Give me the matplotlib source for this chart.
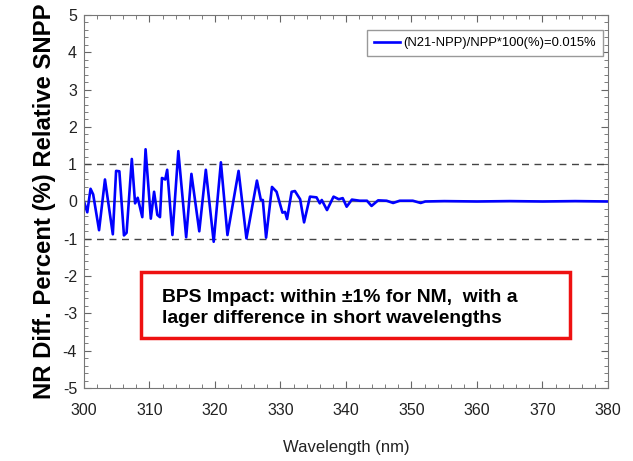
import numpy as np
import matplotlib.pyplot as plt
from matplotlib.ticker import MultipleLocator

# 파장별 상대 차이 (%) - 그림에서 읽은 값
wavelength = [300.0, 300.5, 301.0, 301.4, 302.3, 303.2, 304.4, 304.9, 305.4, 306.1,
              306.5, 307.3, 307.8, 308.2, 308.9, 309.4, 310.2, 310.7, 311.2, 311.6,
              311.9, 312.4, 312.7, 313.5, 314.4, 315.6, 316.4, 317.6, 318.6, 319.8,
              320.9, 321.9, 323.6, 324.8, 326.4, 327.0, 327.3, 327.8, 328.7, 329.4,
              330.3, 330.7, 331.0, 331.7, 332.2, 333.0, 333.6, 334.5, 335.5, 336.0,
              336.3, 337.1, 338.1, 338.9, 339.5, 340.1, 340.9, 342.1, 343.2, 343.9,
              344.9, 346.2, 347.2, 348.2, 350.2, 351.4, 352.1, 355.0, 360.0, 365.0,
              370.0, 375.0, 380.0]
diff_pct = [0.0, -0.29, 0.34, 0.19, -0.77, 0.59, -0.88, 0.82, 0.81, -0.91,
            -0.84, 1.14, -0.05, 0.10, -0.42, 1.40, -0.46, 0.26, -0.36, -0.42,
            0.63, 0.59, 0.85, -0.90, 1.35, -0.96, 0.74, -0.80, 0.85, -1.08,
            1.05, -0.90, 0.82, -0.99, 0.56, 0.04, 0.04, -0.97, 0.39, 0.26,
            -0.30, -0.28, -0.47, 0.26, 0.28, 0.06, -0.56, 0.13, 0.11, -0.05,
            0.04, -0.23, 0.13, 0.06, 0.09, -0.14, 0.05, 0.02, 0.02, -0.12,
            0.03, 0.02, -0.04, 0.02, 0.02, -0.04, 0.0, 0.01, 0.0, 0.01,
            0.0, 0.01, 0.0]
legend_label = '(N21-NPP)/NPP*100(%)=0.015%'
note = 'BPS Impact: within \u00b11% for NM,  with a\nlager difference in short wavelengths'

plt.rcParams['font.family'] = ['Liberation Sans', 'DejaVu Sans']
plt.rcParams['axes.unicode_minus'] = False

fig = plt.figure(figsize=(6.33, 4.61), dpi=100)
ax = fig.add_axes([0.1327, 0.1584, 0.8278, 0.8091])

ax.axhline(0, color='#666666', lw=1.0)
ax.axhline(1, color='#444444', lw=1.0, ls=(0, (5, 4)))
ax.axhline(-1, color='#444444', lw=1.0, ls=(0, (5, 4)))
ax.plot(wavelength, diff_pct, color='#0000ff', lw=1.9, label=legend_label)

ax.set_xlim(300, 380)
ax.set_ylim(-5, 5)
ax.xaxis.set_major_locator(MultipleLocator(10))
ax.xaxis.set_minor_locator(MultipleLocator(2))
ax.yaxis.set_major_locator(MultipleLocator(1))
ax.yaxis.set_minor_locator(MultipleLocator(0.2))
ax.tick_params(which='both', direction='in', top=True, right=True, colors='#666666',
               labelcolor='#222222', labelsize=11.5)
ax.tick_params(which='major', length=5)
ax.tick_params(which='minor', length=3)
ax.tick_params(axis='x', pad=11)
ax.tick_params(axis='y', pad=5)
for s in ax.spines.values():
    s.set_color('#777777')

ax.set_xlabel('Wavelength (nm)', fontsize=12, color='#222222', labelpad=16)
ax.set_ylabel('NR Diff. Percent (%) Relative SNPP', fontsize=17.2, fontweight='bold',
              labelpad=5)

leg = ax.legend(loc='upper right', bbox_to_anchor=(0.99, 0.96), fontsize=9.4,
                handlelength=2.0, handletextpad=0.2, borderpad=0.55, borderaxespad=0,
                fancybox=False, framealpha=1)
leg.get_frame().set_edgecolor('#999999')

ax.text(0.1495, 0.215, note, transform=ax.transAxes, fontsize=13.9, fontweight='bold',
        va='center', ha='left', linespacing=1.3)
rect = plt.Rectangle((0.1088, 0.135), 0.819, 0.177, transform=ax.transAxes, fill=False,
                     edgecolor='#ee1111', lw=2.5)
ax.add_patch(rect)

fig.savefig('out.png', dpi=100)
